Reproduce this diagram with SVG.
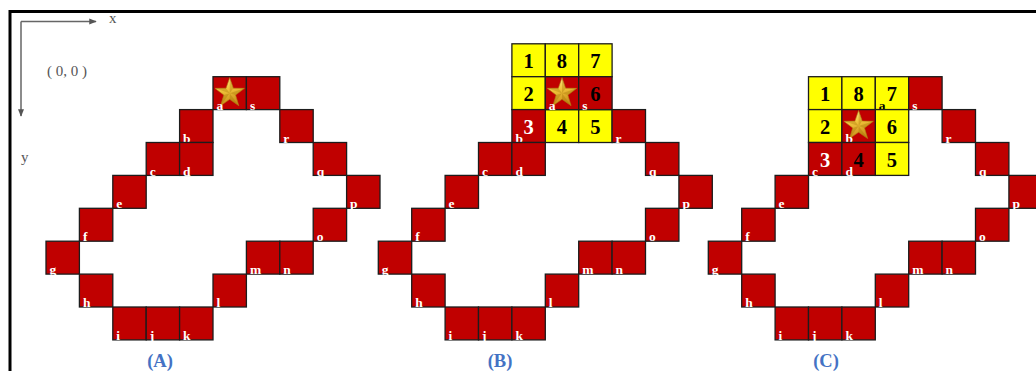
<svg xmlns="http://www.w3.org/2000/svg" xmlns:xlink="http://www.w3.org/1999/xlink" width="1036" height="371" viewBox="0 0 1036 371">
<style>
.r{fill:#C00000;stroke:#1c1c1c;stroke-width:1.3}
.y{fill:#FFFF00;stroke:#1c1c1c;stroke-width:1.3}
.lb{font-family:"Liberation Serif",serif;font-weight:bold;font-size:13.5px;fill:#fff}
.lk{fill:#000}
.n{font-family:"Liberation Serif",serif;font-weight:bold;font-size:20.5px;text-anchor:middle;fill:#000}
.nw{fill:#fff}
.cap{font-family:"Liberation Serif",serif;font-weight:bold;font-size:18.5px;fill:#4472C4;text-anchor:middle}
.ax{font-family:"Liberation Serif",serif;font-size:15px;fill:#555}
</style>
<defs>
<linearGradient id="gold" x1="0" y1="0" x2="0.3" y2="1">
<stop offset="0" stop-color="#FFF39A"/>
<stop offset="0.5" stop-color="#F0C23A"/>
<stop offset="1" stop-color="#C98E1A"/>
</linearGradient>
<g id="star">
<polygon points="0,-15.5 3.65,-5 14.75,-4.8 5.9,1.9 9.1,12.55 0,6.2 -9.1,12.55 -5.9,1.9 -14.75,-4.8 -3.65,-5" fill="url(#gold)" stroke="#B07D10" stroke-width="0.6"/>
<path d="M0,0 L0,-15.5 L3.65,-5Z M0,0 L14.75,-4.8 L5.9,1.9Z M0,0 L9.1,12.55 L0,6.2Z M0,0 L-9.1,12.55 L-5.9,1.9Z M0,0 L-14.75,-4.8 L-3.65,-5Z" fill="#9A6A00" fill-opacity="0.3"/>
</g>
<marker id="ah" viewBox="0 0 10 10" refX="9" refY="5" markerWidth="5" markerHeight="5" orient="auto" markerUnits="strokeWidth">
<path d="M0,1 L10,5 L0,9Z" fill="#555"/>
</marker>
</defs>
<rect x="0" y="0" width="1036" height="371" fill="#fff"/>
<path d="M10,371 V11.5 H1036" fill="none" stroke="#000" stroke-width="3"/>
<g id="connectors">
<g id="axes" stroke="#666" stroke-width="1.5" fill="none">
<path d="M21,21.5 H96" marker-end="url(#ah)"/>
<path d="M21,21.5 V116" marker-end="url(#ah)"/>
</g>
</g>
<text class="ax" x="109" y="23">x</text>
<text class="ax" x="21" y="162">y</text>
<text class="ax" x="47" y="76" font-size="14.5px">( 0, 0 )</text>

<!-- Panel A -->
<g id="panelA" transform="translate(46,0)">
<g id="A-a"><rect class="r" x="167" y="76.7" width="33.4" height="32.9"/><use xlink:href="#star" href="#star" x="183.7" y="93.15"/><text class="lb" x="170.5" y="109.7">a</text></g>
<g id="A-s"><rect class="r" x="200.4" y="76.7" width="33.4" height="32.9"/><text class="lb" x="203.9" y="109.7">s</text></g>
<g id="A-b"><rect class="r" x="133.6" y="109.6" width="33.4" height="32.9"/><text class="lb" x="137.1" y="142.6">b</text></g>
<g id="A-r"><rect class="r" x="233.8" y="109.6" width="33.4" height="32.9"/><text class="lb" x="237.3" y="142.6">r</text></g>
<g id="A-c"><rect class="r" x="100.2" y="142.5" width="33.4" height="32.9"/><text class="lb" x="103.7" y="175.5">c</text></g>
<g id="A-d"><rect class="r" x="133.6" y="142.5" width="33.4" height="32.9"/><text class="lb" x="137.1" y="175.5">d</text></g>
<g id="A-q"><rect class="r" x="267.2" y="142.5" width="33.4" height="32.9"/><text class="lb" x="270.7" y="175.5">q</text></g>
<g id="A-e"><rect class="r" x="66.8" y="175.4" width="33.4" height="32.9"/><text class="lb" x="70.3" y="208.4">e</text></g>
<g id="A-p"><rect class="r" x="300.6" y="175.4" width="33.4" height="32.9"/><text class="lb" x="304.1" y="208.4">p</text></g>
<g id="A-f"><rect class="r" x="33.4" y="208.3" width="33.4" height="32.9"/><text class="lb" x="36.9" y="241.3">f</text></g>
<g id="A-o"><rect class="r" x="267.2" y="208.3" width="33.4" height="32.9"/><text class="lb" x="270.7" y="241.3">o</text></g>
<g id="A-g"><rect class="r" x="0" y="241.2" width="33.4" height="32.9"/><text class="lb" x="3.5" y="274.2">g</text></g>
<g id="A-m"><rect class="r" x="200.4" y="241.2" width="33.4" height="32.9"/><text class="lb" x="203.9" y="274.2">m</text></g>
<g id="A-n"><rect class="r" x="233.8" y="241.2" width="33.4" height="32.9"/><text class="lb" x="237.3" y="274.2">n</text></g>
<g id="A-h"><rect class="r" x="33.4" y="274.1" width="33.4" height="32.9"/><text class="lb" x="36.9" y="307.1">h</text></g>
<g id="A-l"><rect class="r" x="167" y="274.1" width="33.4" height="32.9"/><text class="lb" x="170.5" y="307.1">l</text></g>
<g id="A-i"><rect class="r" x="66.8" y="307" width="33.4" height="32.9"/><text class="lb" x="70.3" y="340">i</text></g>
<g id="A-j"><rect class="r" x="100.2" y="307" width="33.4" height="32.9"/><text class="lb" x="103.7" y="340">j</text></g>
<g id="A-k"><rect class="r" x="133.6" y="307" width="33.4" height="32.9"/><text class="lb" x="137.1" y="340">k</text></g>
</g>
<text class="cap" x="160" y="367">(A)</text>

<!-- Panel B -->
<g id="panelB" transform="translate(378.3,0)">
<g id="B-n1"><rect class="y" x="133.6" y="43.8" width="33.4" height="32.9"/><text class="n" x="150.3" y="68.3">1</text></g>
<g id="B-n8"><rect class="y" x="167" y="43.8" width="33.4" height="32.9"/><text class="n" x="183.7" y="68.3">8</text></g>
<g id="B-n7"><rect class="y" x="200.4" y="43.8" width="33.4" height="32.9"/><text class="n" x="217.1" y="68.3">7</text></g>
<g id="B-n2"><rect class="y" x="133.6" y="76.7" width="33.4" height="32.9"/><text class="n" x="150.3" y="101.2">2</text></g>
<g id="B-n4"><rect class="y" x="167" y="109.6" width="33.4" height="32.9"/><text class="n" x="183.7" y="134.1">4</text></g>
<g id="B-n5"><rect class="y" x="200.4" y="109.6" width="33.4" height="32.9"/><text class="n" x="217.1" y="134.1">5</text></g>
<g id="B-a"><rect class="r" x="167" y="76.7" width="33.4" height="32.9"/><use xlink:href="#star" href="#star" x="183.7" y="93.15"/><text class="lb" x="170.5" y="109.7">a</text></g>
<g id="B-s"><rect class="r" x="200.4" y="76.7" width="33.4" height="32.9"/><text class="n" x="217.1" y="101.2">6</text><text class="lb" x="203.9" y="109.7">s</text></g>
<g id="B-b"><rect class="r" x="133.6" y="109.6" width="33.4" height="32.9"/><text class="n nw" x="150.3" y="134.1">3</text><text class="lb" x="137.1" y="142.6">b</text></g>
<g id="B-r"><rect class="r" x="233.8" y="109.6" width="33.4" height="32.9"/><text class="lb" x="237.3" y="142.6">r</text></g>
<g id="B-c"><rect class="r" x="100.2" y="142.5" width="33.4" height="32.9"/><text class="lb" x="103.7" y="175.5">c</text></g>
<g id="B-d"><rect class="r" x="133.6" y="142.5" width="33.4" height="32.9"/><text class="lb" x="137.1" y="175.5">d</text></g>
<g id="B-q"><rect class="r" x="267.2" y="142.5" width="33.4" height="32.9"/><text class="lb" x="270.7" y="175.5">q</text></g>
<g id="B-e"><rect class="r" x="66.8" y="175.4" width="33.4" height="32.9"/><text class="lb" x="70.3" y="208.4">e</text></g>
<g id="B-p"><rect class="r" x="300.6" y="175.4" width="33.4" height="32.9"/><text class="lb" x="304.1" y="208.4">p</text></g>
<g id="B-f"><rect class="r" x="33.4" y="208.3" width="33.4" height="32.9"/><text class="lb" x="36.9" y="241.3">f</text></g>
<g id="B-o"><rect class="r" x="267.2" y="208.3" width="33.4" height="32.9"/><text class="lb" x="270.7" y="241.3">o</text></g>
<g id="B-g"><rect class="r" x="0" y="241.2" width="33.4" height="32.9"/><text class="lb" x="3.5" y="274.2">g</text></g>
<g id="B-m"><rect class="r" x="200.4" y="241.2" width="33.4" height="32.9"/><text class="lb" x="203.9" y="274.2">m</text></g>
<g id="B-n"><rect class="r" x="233.8" y="241.2" width="33.4" height="32.9"/><text class="lb" x="237.3" y="274.2">n</text></g>
<g id="B-h"><rect class="r" x="33.4" y="274.1" width="33.4" height="32.9"/><text class="lb" x="36.9" y="307.1">h</text></g>
<g id="B-l"><rect class="r" x="167" y="274.1" width="33.4" height="32.9"/><text class="lb" x="170.5" y="307.1">l</text></g>
<g id="B-i"><rect class="r" x="66.8" y="307" width="33.4" height="32.9"/><text class="lb" x="70.3" y="340">i</text></g>
<g id="B-j"><rect class="r" x="100.2" y="307" width="33.4" height="32.9"/><text class="lb" x="103.7" y="340">j</text></g>
<g id="B-k"><rect class="r" x="133.6" y="307" width="33.4" height="32.9"/><text class="lb" x="137.1" y="340">k</text></g>
</g>
<text class="cap" x="500" y="367">(B)</text>

<!-- Panel C -->
<g id="panelC" transform="translate(708.3,0)">
<g id="C-n1"><rect class="y" x="100.2" y="76.7" width="33.4" height="32.9"/><text class="n" x="116.9" y="101.2">1</text></g>
<g id="C-n8"><rect class="y" x="133.6" y="76.7" width="33.4" height="32.9"/><text class="n" x="150.3" y="101.2">8</text></g>
<g id="C-a"><rect class="y" x="167" y="76.7" width="33.4" height="32.9"/><text class="n" x="183.7" y="101.2">7</text><text class="lb lk" x="170.5" y="109.7">a</text></g>
<g id="C-n2"><rect class="y" x="100.2" y="109.6" width="33.4" height="32.9"/><text class="n" x="116.9" y="134.1">2</text></g>
<g id="C-n6"><rect class="y" x="167" y="109.6" width="33.4" height="32.9"/><text class="n" x="183.7" y="134.1">6</text></g>
<g id="C-n5"><rect class="y" x="167" y="142.5" width="33.4" height="32.9"/><text class="n" x="183.7" y="167">5</text></g>
<g id="C-s"><rect class="r" x="200.4" y="76.7" width="33.4" height="32.9"/><text class="lb" x="203.9" y="109.7">s</text></g>
<g id="C-b"><rect class="r" x="133.6" y="109.6" width="33.4" height="32.9"/><use xlink:href="#star" href="#star" x="150.3" y="126.05"/><text class="lb" x="137.1" y="142.6">b</text></g>
<g id="C-r"><rect class="r" x="233.8" y="109.6" width="33.4" height="32.9"/><text class="lb" x="237.3" y="142.6">r</text></g>
<g id="C-c"><rect class="r" x="100.2" y="142.5" width="33.4" height="32.9"/><text class="n nw" x="116.9" y="167">3</text><text class="lb" x="103.7" y="175.5">c</text></g>
<g id="C-d"><rect class="r" x="133.6" y="142.5" width="33.4" height="32.9"/><text class="n" x="150.3" y="167">4</text><text class="lb" x="137.1" y="175.5">d</text></g>
<g id="C-q"><rect class="r" x="267.2" y="142.5" width="33.4" height="32.9"/><text class="lb" x="270.7" y="175.5">q</text></g>
<g id="C-e"><rect class="r" x="66.8" y="175.4" width="33.4" height="32.9"/><text class="lb" x="70.3" y="208.4">e</text></g>
<g id="C-p"><rect class="r" x="300.6" y="175.4" width="33.4" height="32.9"/><text class="lb" x="304.1" y="208.4">p</text></g>
<g id="C-f"><rect class="r" x="33.4" y="208.3" width="33.4" height="32.9"/><text class="lb" x="36.9" y="241.3">f</text></g>
<g id="C-o"><rect class="r" x="267.2" y="208.3" width="33.4" height="32.9"/><text class="lb" x="270.7" y="241.3">o</text></g>
<g id="C-g"><rect class="r" x="0" y="241.2" width="33.4" height="32.9"/><text class="lb" x="3.5" y="274.2">g</text></g>
<g id="C-m"><rect class="r" x="200.4" y="241.2" width="33.4" height="32.9"/><text class="lb" x="203.9" y="274.2">m</text></g>
<g id="C-n"><rect class="r" x="233.8" y="241.2" width="33.4" height="32.9"/><text class="lb" x="237.3" y="274.2">n</text></g>
<g id="C-h"><rect class="r" x="33.4" y="274.1" width="33.4" height="32.9"/><text class="lb" x="36.9" y="307.1">h</text></g>
<g id="C-l"><rect class="r" x="167" y="274.1" width="33.4" height="32.9"/><text class="lb" x="170.5" y="307.1">l</text></g>
<g id="C-i"><rect class="r" x="66.8" y="307" width="33.4" height="32.9"/><text class="lb" x="70.3" y="340">i</text></g>
<g id="C-j"><rect class="r" x="100.2" y="307" width="33.4" height="32.9"/><text class="lb" x="103.7" y="340">j</text></g>
<g id="C-k"><rect class="r" x="133.6" y="307" width="33.4" height="32.9"/><text class="lb" x="137.1" y="340">k</text></g>
</g>
<text class="cap" x="826" y="367">(C)</text>
</svg>
